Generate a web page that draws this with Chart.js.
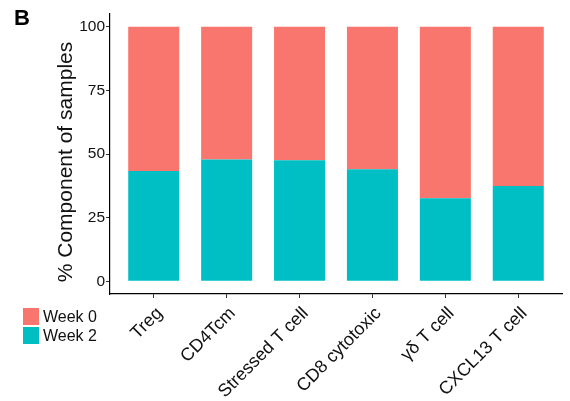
<!DOCTYPE html>
<html>
<head>
<meta charset="utf-8">
<script src="https://cdn.jsdelivr.net/npm/chart.js@4/dist/chart.umd.min.js"></script>
<style>
  body { margin: 0; background: #fff; }
  #wrap { position: relative; width: 570px; height: 401px; font-family: "Liberation Sans", Arial, sans-serif; }
  #panel { position: absolute; left: 14px; top: 5px; font-size: 22px; font-weight: bold; color: #000; }
  #legend { position: absolute; left: 23px; top: 307px; font-size: 16px; color: #111; }
  .item { display: flex; align-items: center; height: 19px; }
  .box { width: 16px; height: 17px; margin-right: 4px; }
</style>
</head>
<body>
<div id="wrap">
  <canvas id="myChart" width="570" height="401"></canvas>
  <div id="panel">B</div>
  <div id="legend"></div>
</div>
<script>
// カテゴリと値 (写真から読み取り)
const categories = ['Treg', 'CD4Tcm', 'Stressed T cell', 'CD8 cytotoxic', 'γδ T cell', 'CXCL13 T cell'];
const week2 = [43.3, 47.8, 47.5, 44.0, 32.6, 37.4];
const week0 = [56.7, 52.2, 52.5, 56.0, 67.4, 62.6];
const yTicks = [0, 25, 50, 75, 100];
const seriesNames = ['Week 0', 'Week 2'];
const colors = ['#F8766D', '#00BFC4'];
const yTitle = '% Component of samples';

const ctx = document.getElementById('myChart');

// 線形のx軸にカテゴリ番号で置く
function toPoints(values) {
  return values.map((v, i) => ({ x: i, y: v }));
}

// y軸タイトル (少し下寄せ)
const yTitlePlugin = {
  id: 'yTitle',
  afterDraw(chart) {
    const c = chart.ctx;
    const area = chart.chartArea;
    c.save();
    c.translate(66, (area.top + area.bottom) / 2 + 8);
    c.rotate(-Math.PI / 2);
    c.font = '21px "Liberation Sans"';
    c.fillStyle = '#111';
    c.textAlign = 'center';
    c.textBaseline = 'middle';
    c.fillText(yTitle, 0, 0);
    c.restore();
  }
};

const myChart = new Chart(ctx, {
  type: 'bar',
  data: {
    datasets: [
      { label: seriesNames[1], data: toPoints(week2), backgroundColor: colors[1], stack: 's' },
      { label: seriesNames[0], data: toPoints(week0), backgroundColor: colors[0], stack: 's' },
    ],
  },
  plugins: [yTitlePlugin],
  options: {
    responsive: false,
    animation: false,
    categoryPercentage: 0.7,
    barPercentage: 1,
    borderWidth: 0,
    layout: { padding: { top: 14, right: 8, left: 0, bottom: 0 } },
    plugins: {
      legend: { display: false },
      tooltip: { enabled: false },
    },
    scales: {
      x: {
        type: 'linear',
        min: -0.6,
        max: 5.6,
        offset: false,
        stacked: true,
        border: { display: true, color: '#000', width: 1.2 },
        grid: { offset: false, drawOnChartArea: false, drawTicks: true, tickLength: 4, color: '#333' },
        afterBuildTicks: function (scale) {
          scale.ticks = categories.map((c, i) => ({ value: i }));
        },
        afterFit: function (scale) {
          scale.height = 107;
        },
        ticks: {
          autoSkip: false,
          minRotation: 45,
          maxRotation: 45,
          padding: 5,
          labelOffset: 6,
          color: '#111',
          font: { family: 'Liberation Sans', size: 18 },
          callback: function (value) {
            return categories[value];
          }
        }
      },
      y: {
        min: -5,
        max: 105,
        stacked: true,
        border: { display: true, color: '#000', width: 1.2 },
        grid: { drawOnChartArea: false, drawTicks: true, tickLength: 4, color: '#333' },
        afterBuildTicks: function (scale) {
          scale.ticks = yTicks.map(v => ({ value: v }));
        },
        afterFit: function (scale) {
          scale.width = 110;
        },
        ticks: {
          padding: 1,
          color: '#111',
          font: { family: 'Liberation Sans', size: 15.5 },
        }
      }
    }
  }
});

// 凡例 (Week 0 が上)
const legendEl = document.getElementById('legend');
seriesNames.forEach((name, i) => {
  const row = document.createElement('div');
  row.className = 'item';
  row.innerHTML = `<div class="box" style="background:${colors[i]}"></div><span>${name}</span>`;
  legendEl.appendChild(row);
});
</script>
</body>
</html>
